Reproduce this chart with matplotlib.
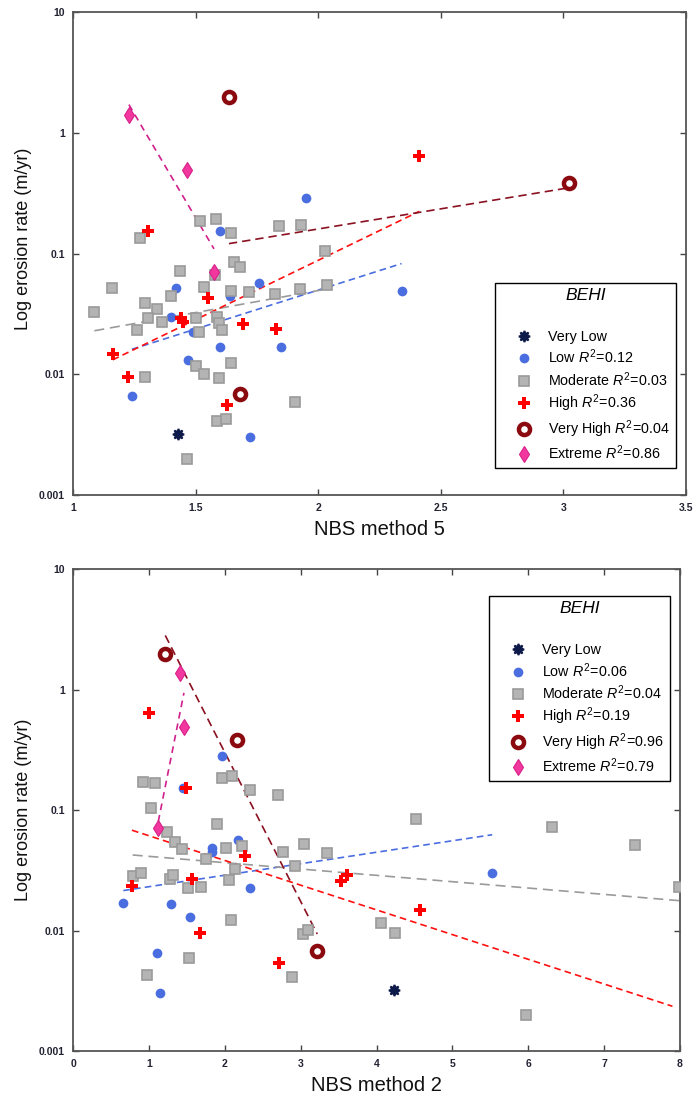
import numpy as np
import matplotlib
matplotlib.use('Agg')
import matplotlib.pyplot as plt
from matplotlib.ticker import FixedLocator, FixedFormatter, NullLocator

plt.rcParams['font.family'] = ['Liberation Sans', 'DejaVu Sans']
plt.rcParams['mathtext.fontset'] = 'custom'
plt.rcParams['mathtext.it'] = 'Liberation Sans:italic'
plt.rcParams['mathtext.rm'] = 'Liberation Sans'

# ---- дані: NBS method 5 (верхній графік) ----
m5_vlow_x = [1.43]
m5_vlow_y = [0.0032]
m5_low_x = [1.60, 1.95, 1.42, 1.76, 1.64, 1.40, 1.49, 1.60, 1.85, 1.47, 1.24, 1.72, 2.34]
m5_low_y = [0.155, 0.286, 0.0515, 0.0573, 0.0445, 0.030, 0.0225, 0.0169, 0.0167, 0.0131, 0.0066, 0.0030, 0.0489]
m5_mod_x = [1.518, 1.582, 1.646, 1.839, 1.931, 1.275, 2.028, 1.655, 1.681, 1.438, 1.580, 1.160, 1.534,
            1.646, 1.716, 1.824, 1.924, 2.037, 1.400, 1.292, 1.341, 1.087, 1.305, 1.362, 1.502, 1.586,
            1.594, 1.609, 1.513, 1.260, 1.646, 1.502, 1.534, 1.594, 1.292, 1.904, 1.587, 1.625, 1.464]
m5_mod_y = [0.187, 0.195, 0.149, 0.169, 0.173, 0.134, 0.105, 0.0855, 0.0778, 0.0716, 0.0664, 0.0515, 0.0531,
            0.0492, 0.0483, 0.0463, 0.0505, 0.0548, 0.0445, 0.0392, 0.0347, 0.0330, 0.0294, 0.0271, 0.029, 0.030,
            0.0264, 0.0232, 0.0225, 0.0232, 0.0124, 0.0117, 0.0100, 0.0094, 0.0095, 0.0059, 0.0041, 0.0043, 0.0020]
m5_high_x = [1.307, 1.552, 1.44, 1.45, 1.692, 1.827, 1.162, 1.224, 1.628, 2.412]
m5_high_y = [0.155, 0.0426, 0.029, 0.027, 0.026, 0.0237, 0.0147, 0.0095, 0.0056, 0.642]
m5_vhigh_x = [1.636, 1.682, 3.024]
m5_vhigh_y = [1.99, 0.0069, 0.386]
m5_ext_x = [1.228, 1.466, 1.575]
m5_ext_y = [1.40, 0.491, 0.0706]
m5_r2 = ['', '0.12', '0.03', '0.36', '0.04', '0.86']

# ---- дані: NBS method 2 (нижній графік) ----
m2_vlow_x = [4.233]
m2_vlow_y = [0.0032]
m2_low_x = [1.967, 1.445, 1.836, 1.836, 2.170, 2.332, 0.663, 1.295, 1.541, 1.111, 1.150, 5.525]
m2_low_y = [0.282, 0.153, 0.0486, 0.0446, 0.0564, 0.0224, 0.0168, 0.0165, 0.0129, 0.0065, 0.00305, 0.0299]
m2_mod_x = [0.926, 1.085, 1.959, 2.099, 2.336, 2.697, 1.028, 1.893, 1.234, 4.523, 6.311, 7.409, 7.988,
            1.340, 1.432, 2.011, 2.231, 2.771, 3.043, 3.351, 1.748, 2.130, 2.925, 0.786, 0.891, 1.274,
            1.322, 2.060, 1.511, 1.686, 2.077, 3.034, 3.096, 1.528, 0.979, 2.890, 4.058, 4.247, 5.964]
m2_mod_y = [0.172, 0.166, 0.185, 0.193, 0.147, 0.133, 0.103, 0.0766, 0.066, 0.0845, 0.072, 0.0513, 0.0228,
            0.054, 0.0472, 0.0486, 0.0502, 0.0451, 0.0525, 0.0443, 0.039, 0.0324, 0.0345, 0.0285, 0.0299, 0.0267,
            0.0289, 0.0261, 0.0224, 0.0228, 0.0123, 0.0094, 0.0101, 0.0059, 0.0043, 0.0041, 0.0116, 0.0096, 0.0020]
m2_high_x = [1.006, 1.489, 1.568, 0.777, 2.270, 1.669, 2.714, 3.527, 3.606, 4.576]
m2_high_y = [0.634, 0.153, 0.0266, 0.0236, 0.0418, 0.0095, 0.0054, 0.0259, 0.0289, 0.0147]
m2_vhigh_x = [1.216, 2.156, 3.219]
m2_vhigh_y = [1.96, 0.381, 0.0068]
m2_ext_x = [1.124, 1.410, 1.462]
m2_ext_y = [0.0713, 1.38, 0.491]
m2_r2 = ['', '0.06', '0.04', '0.19', '0.96', '0.79']
m2_high_fit_end = 7.9   # лінія тренду High тягнеться далі за точки

classes = ['Very Low', 'Low', 'Moderate', 'High', 'Very High', 'Extreme']

# стилі маркерів і ліній
marker_style = {
    'Very Low': dict(marker=(8, 1, 0), color='#0d1a4a', ms=8, mew=1.4),
    'Low': dict(marker='o', color='#4a6de0', ms=7, mew=0),
    'Moderate': dict(marker='s', mfc='#b4b4b4', mec='#9a9a9a', ms=7.5, mew=1.2),
    'High': dict(marker='P', color='#ff0000', ms=8.5, mew=0),
    'Very High': dict(marker='o', mfc='white', mec='#8b0a0f', ms=8, mew=3.2),
    'Extreme': dict(marker='d', mfc='#f2389e', mec='#d8208a', ms=8.5, mew=0.8),
}
line_style = {
    'Low': dict(color='#4a6de0', dashes=(4, 2.5)),
    'Moderate': dict(color='#9a9a9a', dashes=(6, 3.5)),
    'High': dict(color='#ff1010', dashes=(4, 2.5)),
    'Very High': dict(color='#8b1020', dashes=(5, 3)),
    'Extreme': dict(color='#d0208c', dashes=(4, 3)),
}


def trend(ax, x, y, style, x_end=None):
    # експоненційний тренд: лінійна регресія log10(y) від x
    x = np.asarray(x)
    k, b = np.polyfit(x, np.log10(y), 1)
    xs = np.array([x.min(), x.max() if x_end is None else x_end])
    ax.plot(xs, 10 ** (k * xs + b), lw=1.2, zorder=2, **style)


def draw(ax, groups, r2, xlim, xticks, fit_end):
    handles = []
    for name, (x, y), r in zip(classes, groups, r2):
        if name in line_style:
            trend(ax, x, y, line_style[name], fit_end.get(name))
        h, = ax.plot(x, y, linestyle='none', zorder=3, **marker_style[name])
        handles.append(h)
    labels = [n if r == '' else n + r' $\mathit{R^2\!=\!%s}$' % r for n, r in zip(classes, r2)]

    ax.set_yscale('log')
    ax.set_ylim(0.001, 10)
    ax.set_xlim(*xlim)
    ax.yaxis.set_major_locator(FixedLocator([0.001, 0.01, 0.1, 1, 10]))
    ax.yaxis.set_major_formatter(FixedFormatter(['0.001', '0.01', '0.1', '1', '10']))
    ax.yaxis.set_minor_locator(NullLocator())
    ax.set_xticks(xticks)
    ax.set_xticklabels([('%g' % t) for t in xticks])
    ax.tick_params(direction='in', top=True, right=True, length=4, width=1,
                   color='#444444', labelsize=7.5, labelcolor='#222233', pad=6)
    for lbl in ax.get_xticklabels() + ax.get_yticklabels():
        lbl.set_fontweight('bold')
    for s in ax.spines.values():
        s.set_color('#555555')
        s.set_linewidth(1.3)
    ax.set_ylabel('Log erosion rate (m/yr)', fontsize=13, color='#111111')
    return handles, labels


fig = plt.figure(figsize=(6.96, 11.04), dpi=100)
ax1 = fig.add_axes([0.1049, 0.5516, 0.8807, 0.4375])
ax2 = fig.add_axes([0.1049, 0.0480, 0.8721, 0.4366])

h1, l1 = draw(ax1,
              [(m5_vlow_x, m5_vlow_y), (m5_low_x, m5_low_y), (m5_mod_x, m5_mod_y),
               (m5_high_x, m5_high_y), (m5_vhigh_x, m5_vhigh_y), (m5_ext_x, m5_ext_y)],
              m5_r2, (1, 3.5), [1, 1.5, 2, 2.5, 3, 3.5], {})
ax1.set_xlabel('NBS method 5', fontsize=14.5, color='#111111', labelpad=5)
ax1.yaxis.set_label_coords(-0.067, 0.53)

h2, l2 = draw(ax2,
              [(m2_vlow_x, m2_vlow_y), (m2_low_x, m2_low_y), (m2_mod_x, m2_mod_y),
               (m2_high_x, m2_high_y), (m2_vhigh_x, m2_vhigh_y), (m2_ext_x, m2_ext_y)],
              m2_r2, (0, 8), list(range(9)), {'High': m2_high_fit_end})
ax2.set_xlabel('NBS method 2', fontsize=14.5, color='#111111', labelpad=5)
ax2.yaxis.set_label_coords(-0.0675, 0.5)

leg_kw = dict(title='BEHI\n', fontsize=10.3, frameon=True, fancybox=False, edgecolor='black',
              framealpha=1, borderpad=0.4, labelspacing=0.27, handletextpad=0.05,
              borderaxespad=0, handlelength=3.3)
for ax, h, l, loc, anchor in [(ax1, h1, l1, 'lower right', (0.984, 0.056)),
                              (ax2, h2, l2, 'upper right', (0.9835, 0.9446))]:
    leg = ax.legend(h, l, loc=loc, bbox_to_anchor=anchor, **leg_kw)
    leg.get_title().set_fontsize(12.5)
    leg.get_title().set_fontstyle('italic')
    leg.get_title().set_linespacing(1.65)
    leg.get_frame().set_linewidth(1.0)

fig.savefig('out.png', dpi=100)
